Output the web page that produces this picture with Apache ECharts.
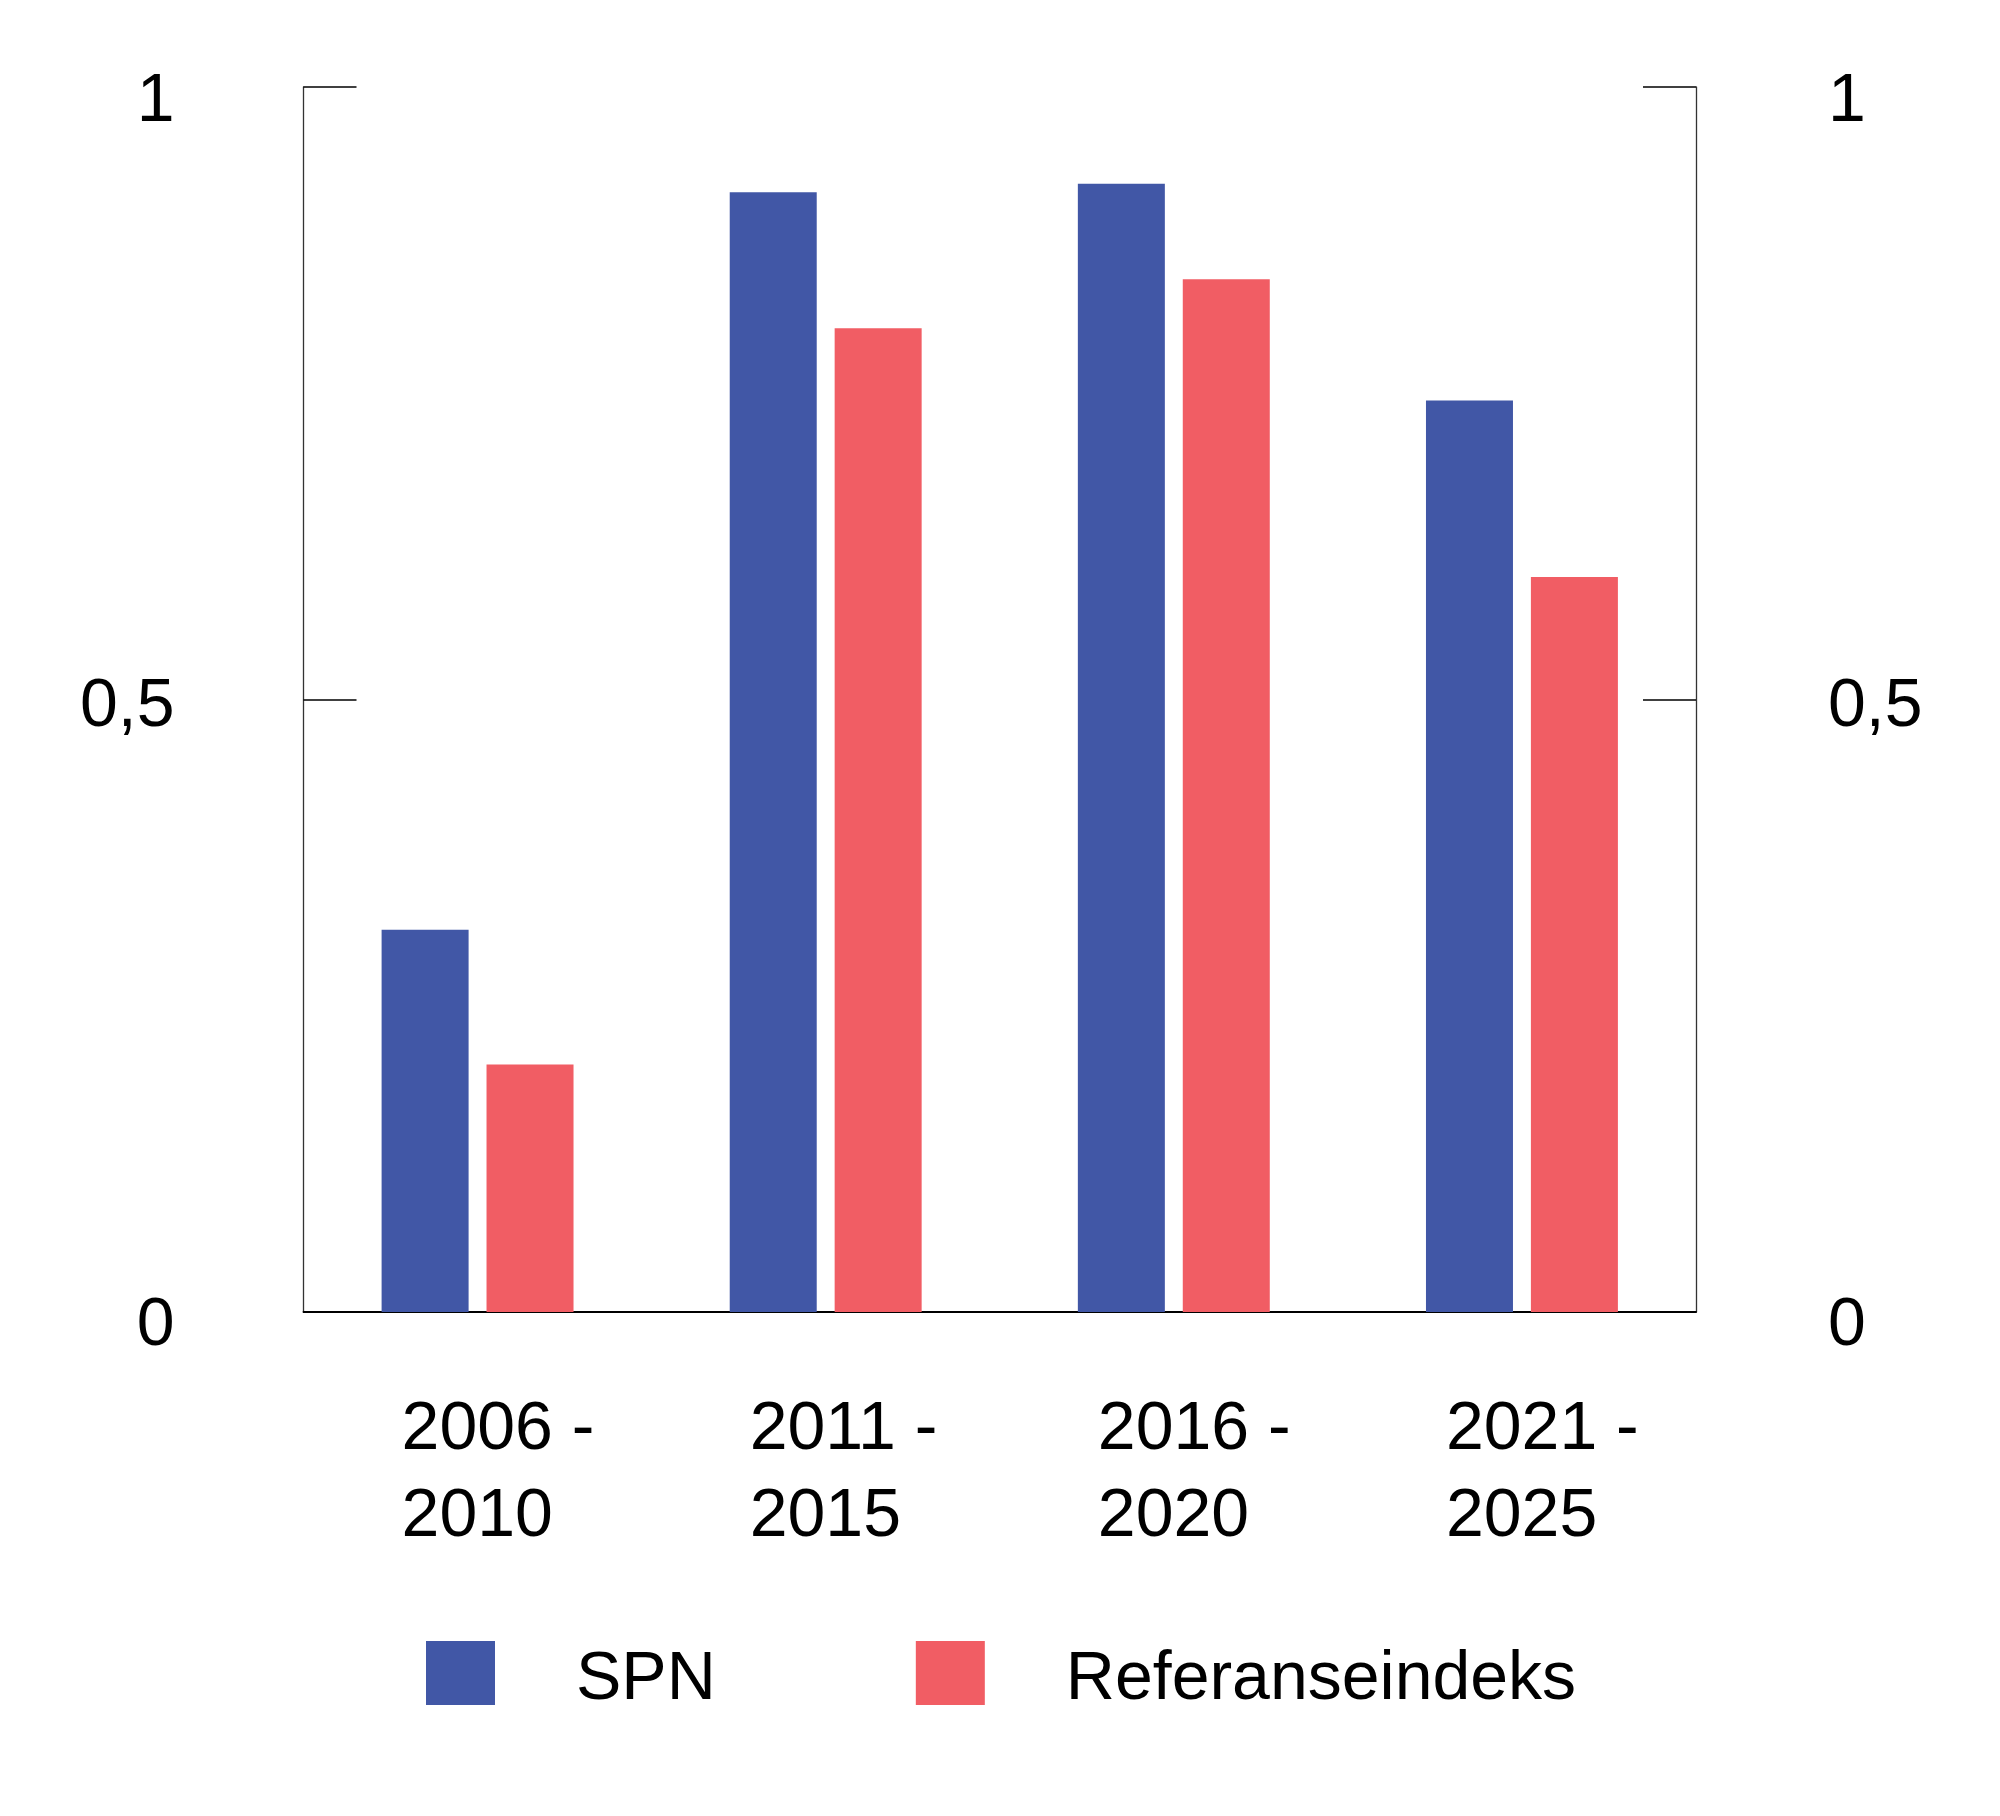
<!DOCTYPE html>
<html>
<head>
<meta charset="utf-8">
<script src="https://cdn.jsdelivr.net/npm/echarts@6/dist/echarts.min.js"></script>
<style>
html,body{margin:0;padding:0;background:#fff;}
#chart{width:2000px;height:1816px;}
</style>
</head>
<body>
<div id="chart"></div>
<script>
const categories = ['2006 -\n2010', '2011 -\n2015', '2016 -\n2020', '2021 -\n2025'];
const seriesNames = ['SPN', 'Referanseindeks'];
const spnValues = [0.312, 0.914, 0.921, 0.744];
const refValues = [0.202, 0.803, 0.843, 0.600];
const yTicks = [0, 0.5, 1];

const FONT = 'Liberation Sans, Arial, Helvetica, sans-serif';
const BLUE = '#4157a6';
const RED = '#f15d64';

function yFmt(v) {
  const s = String(v).replace('.', ',');
  if (v === yTicks[0]) return '{z|' + s + '}';
  if (v === yTicks[yTicks.length - 1]) return '{e|' + s + '}';
  return '{m|' + s + '}';
}
const yRich = {
  e: { fontSize: 68, fontFamily: FONT, color: '#000', padding: [30, 0, 0, 0] },
  z: { fontSize: 68, fontFamily: FONT, color: '#000', padding: [28, 0, 0, 0] },
  m: { fontSize: 68, fontFamily: FONT, color: '#000', padding: [16, 0, 0, 0] }
};

function yAxisDef(pos) {
  return {
    type: 'value',
    position: pos,
    min: 0, max: 1, interval: 0.5,
    splitLine: { show: false },
    axisLine: { show: true, lineStyle: { color: '#333', width: 1.3 } },
    axisTick: { show: true, inside: true, length: 53, lineStyle: { color: '#000', width: 1.6 } },
    axisLabel: { margin: pos === 'left' ? 129 : 132, formatter: yFmt, rich: yRich, fontSize: 68, fontFamily: FONT, color: '#000' }
  };
}

const chart = echarts.init(document.getElementById('chart'), null, { renderer: 'canvas' });
chart.setOption({
  animation: false,
  backgroundColor: '#fff',
  grid: { left: 303.5, right: 304, top: 87, bottom: 504, containLabel: false },
  legend: {
    data: seriesNames,
    left: 421, top: 1636,
    icon: 'rect',
    itemWidth: 69, itemHeight: 64,
    itemGap: 200,
    formatter: function (name) { return '{t|' + name + '}'; },
    textStyle: {
      fontSize: 68, fontFamily: FONT, color: '#000', padding: [0, 0, 0, 76],
      rich: { t: { fontSize: 68, fontFamily: FONT, color: '#000', padding: [14, 0, 0, 0] } }
    }
  },
  xAxis: {
    type: 'category',
    data: categories,
    axisLine: { show: true, lineStyle: { color: '#000', width: 1.8 } },
    axisTick: { show: false },
    axisLabel: {
      interval: 0,
      margin: 75,
      align: 'left',
      verticalAlign: 'top',
      padding: [0, 0, 0, -76],
      fontSize: 68,
      lineHeight: 87,
      fontFamily: FONT,
      color: '#000'
    }
  },
  yAxis: [yAxisDef('left'), yAxisDef('right')],
  series: [
    { name: seriesNames[0], type: 'bar', data: spnValues, barWidth: 87, barGap: '20.6%', itemStyle: { color: BLUE } },
    { name: seriesNames[1], type: 'bar', data: refValues, barWidth: 87, barGap: '20.6%', itemStyle: { color: RED } }
  ]
});
</script>
</body>
</html>
